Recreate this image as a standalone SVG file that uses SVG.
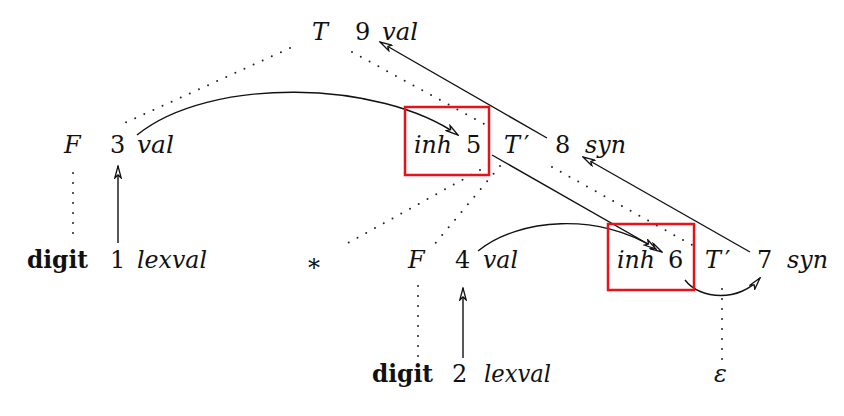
<svg xmlns="http://www.w3.org/2000/svg" width="844" height="416" viewBox="0 0 844 416">
<defs>
<style>
text{font-family:"DejaVu Serif",serif;font-size:24px;fill:#111}
.i{font-style:italic}
.b{font-weight:bold}
.p{font-style:normal}
.dot{fill:none;stroke:#222;stroke-width:2;stroke-linecap:round;stroke-dasharray:0 10}
.arr{fill:none;stroke:#111;stroke-width:1.4;marker-end:url(#ah)}
.box{fill:none;stroke:#e8131a;stroke-width:2.5}
</style>
<marker id="ah" markerUnits="userSpaceOnUse" viewBox="0 0 14 8" refX="13" refY="4" markerWidth="14" markerHeight="8" orient="auto">
<path d="M1,0.8 L13,4 L1,7.2 L4,4 z" fill="#fff" stroke="#111" stroke-width="1.3"/>
</marker>
</defs>
<rect width="844" height="416" fill="#fff"/>
<g id="connectors">
<path class="dot" d="M290,48 L118,126"/>
<path class="dot" d="M352,52 L486,125"/>
<path class="dot" d="M480,170 L348,243"/>
<path class="dot" d="M500,166 L433,246"/>
<path class="dot" d="M552,167 L692,245"/>
<path class="dot" d="M73,173 L73,240"/>
<path class="dot" d="M418,286 L418,357"/>
<path class="dot" d="M722,289 L722,360"/>
<path class="arr" d="M118,243 L118,166"/>
<path class="arr" d="M463,358 L463,288"/>
<path class="arr" d="M137,135 C210,76 380,80 458,135"/>
<path class="arr" d="M547,138 L380,42"/>
<path class="arr" d="M750,252 L583,157"/>
<path class="arr" d="M492,155 L662,252"/>
<path class="arr" d="M478,251 C518,218 600,212 656,249"/>
<path class="arr" d="M685,280 C700,300 740,302 760,278"/>
</g>
<g id="n9"><text x="312" y="40" class="i">T</text><text x="355" y="40">9</text><text x="382" y="40" class="i" textLength="36" lengthAdjust="spacingAndGlyphs">val</text></g>
<g id="n3"><text x="64" y="153" class="i">F</text><text x="110" y="153">3</text><text x="137" y="153" class="i" textLength="37" lengthAdjust="spacingAndGlyphs">val</text></g>
<g id="n5"><rect class="box" x="405" y="107" width="84" height="68"/><text x="414" y="153" class="i" textLength="38" lengthAdjust="spacingAndGlyphs">inh</text><text x="466" y="153">5</text></g>
<g id="n8"><text x="504" y="153" class="i">T<tspan class="p" dx="4">′</tspan></text><text x="555" y="153">8</text><text x="585" y="153" class="i" textLength="41" lengthAdjust="spacingAndGlyphs">syn</text></g>
<g id="n1"><text x="27" y="268" class="b" textLength="61" lengthAdjust="spacingAndGlyphs">digit</text><text x="110" y="268">1</text><text x="137" y="268" class="i" textLength="70" lengthAdjust="spacingAndGlyphs">lexval</text></g>
<g id="star"><text x="308" y="276">*</text></g>
<g id="n4"><text x="408" y="268" class="i">F</text><text x="455" y="268">4</text><text x="483" y="268" class="i" textLength="35" lengthAdjust="spacingAndGlyphs">val</text></g>
<g id="n6"><rect class="box" x="608" y="224" width="86" height="66"/><text x="617" y="268" class="i" textLength="38" lengthAdjust="spacingAndGlyphs">inh</text><text x="668" y="268">6</text></g>
<g id="n7"><text x="705" y="268" class="i">T<tspan class="p" dx="4">′</tspan></text><text x="757" y="268">7</text><text x="787" y="268" class="i" textLength="41" lengthAdjust="spacingAndGlyphs">syn</text></g>
<g id="n2"><text x="372" y="382" class="b" textLength="61" lengthAdjust="spacingAndGlyphs">digit</text><text x="452" y="382">2</text><text x="484" y="382" class="i" textLength="67" lengthAdjust="spacingAndGlyphs">lexval</text></g>
<g id="eps"><text x="714" y="382" class="i">ε</text></g>
</svg>
